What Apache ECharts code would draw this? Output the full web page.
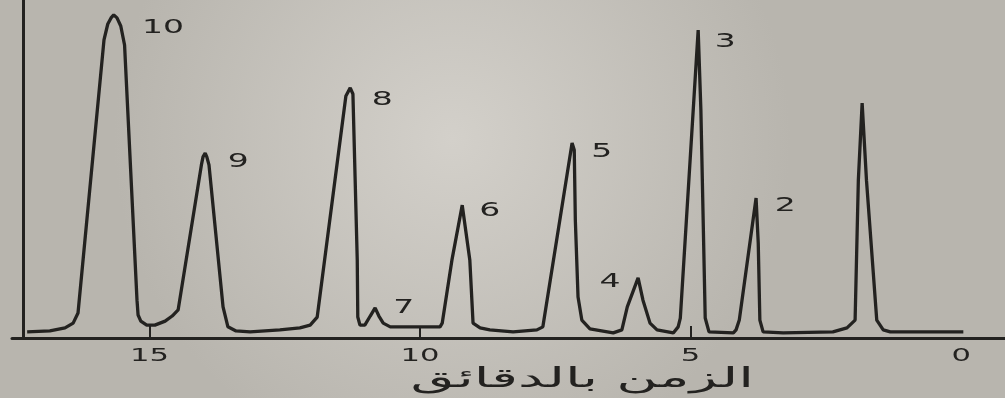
<!DOCTYPE html>
<html>
<head>
<meta charset="utf-8">
<script src="https://cdn.jsdelivr.net/npm/echarts@6/dist/echarts.min.js"></script>
<style>html,body{margin:0;padding:0;background:#c6c3bd;}#c{width:1005px;height:398px;}</style>
</head>
<body>
<div id="c"></div>
<script>
// Retention time (minutes) and detector response (% of full scale)
const times = [17.26,16.84,16.56,16.41,16.32,15.84,15.77,15.71,15.66,15.60,15.53,15.46,15.23,15.21,15.16,15.05,14.90,14.71,14.58,14.47,14.04,14.01,13.97,13.94,13.90,13.64,13.55,13.40,13.14,12.59,12.22,12.03,11.90,11.37,11.29,11.24,11.20,11.16,11.15,11.11,11.02,10.92,10.83,10.76,10.68,10.55,9.63,9.59,9.41,9.22,9.08,9.02,8.89,8.71,8.28,7.84,7.73,7.19,7.15,7.13,7.08,7.01,6.86,6.43,6.27,6.17,5.97,5.88,5.75,5.62,5.32,5.23,5.19,4.86,4.81,4.73,4.66,4.21,4.16,4.10,3.79,3.75,3.72,3.66,3.29,2.37,2.11,1.96,1.90,1.83,1.75,1.56,1.44,1.31,-0.04];
const signal = [1.8,2.1,3.0,4.4,7.4,88.2,92.9,94.7,95.6,94.7,92.3,86.7,11.2,6.8,5.0,3.8,3.8,5.0,6.5,8.3,51.2,53.6,54.7,53.6,51.2,9.2,3.3,2.1,1.8,2.4,3.0,3.8,6.2,71.6,74.0,72.2,47.6,23.1,6.2,3.8,3.8,6.5,8.9,6.5,4.4,3.3,3.3,4.4,23.1,39.3,23.1,4.4,3.0,2.4,1.8,2.4,3.3,57.7,55.6,34.9,12.1,5.3,2.7,1.5,2.4,9.2,17.8,11.2,4.4,2.4,1.5,3.3,5.9,91.1,67.5,5.9,1.8,1.5,2.4,5.3,41.4,28.1,5.3,1.8,1.5,1.8,3.0,5.3,46.7,69.5,46.7,5.3,2.4,1.8,1.8];

// Peak numbers and where their labels sit (time, response)
const peakNames = ['10','9','8','7','6','5','4','3','2'];
const peakLabelTimes = [14.75,13.36,10.70,10.30,8.71,6.64,6.49,4.36,3.25];
const peakLabelHeights = [91.7,52.1,70.4,8.9,37.6,55.0,16.6,87.6,39.0];

// Axis ticks
const tickLabelValues = [15,10,5,0];
const tickMarkValues = [5,10,15];
const axisTitle = 'الزمن بالدقائق';

const ink = '#232220';
const chart = echarts.init(document.getElementById('c'), null, {renderer:'canvas'});
chart.setOption({
  animation: false,
  backgroundColor: {
    type: 'radial', x: 0.45, y: 0.35, r: 0.85,
    colorStops: [{offset: 0, color: '#d3d0ca'}, {offset: 1, color: '#b8b5ae'}]
  },
  grid: {left: 12, right: 0, top: 0, bottom: 60},
  xAxis: {
    type: 'value', inverse: true, min: -0.81, max: 17.54,
    axisLine: {onZero: false, lineStyle: {color: ink, width: 3}},
    axisTick: {show: true, inside: true, length: 12, customValues: tickMarkValues, lineStyle: {color: ink, width: 2}},
    axisLabel: {show: false},
    splitLine: {show: false}
  },
  yAxis: {
    type: 'value', min: 0, max: 100, position: 'left', offset: -11,
    axisLine: {show: true, onZero: false, lineStyle: {color: ink, width: 3}},
    axisTick: {show: false}, axisLabel: {show: false}, splitLine: {show: false}
  },
  series: [{
    type: 'line',
    data: times.map((t, i) => [t, signal[i]]),
    showSymbol: false, smooth: false,
    lineStyle: {color: ink, width: 3.3},
    silent: true
  }]
});

// Wide typewriter-like lettering: place text through the chart's own scales
const graphics = [];
tickLabelValues.forEach(v => {
  const p = chart.convertToPixel({gridIndex: 0}, [v, 0]);
  graphics.push({
    type: 'text', x: p[0], y: p[1] + 18, scaleX: 1.7, silent: true,
    style: {text: String(v), fill: ink, font: '18px "DejaVu Sans"', textAlign: 'center', textVerticalAlign: 'middle'}
  });
});
peakNames.forEach((n, i) => {
  const p = chart.convertToPixel({gridIndex: 0}, [peakLabelTimes[i], peakLabelHeights[i]]);
  graphics.push({
    type: 'text', x: p[0], y: p[1], scaleX: 1.65, silent: true,
    style: {text: n, fill: ink, font: '20px "DejaVu Sans"', textAlign: 'center', textVerticalAlign: 'middle'}
  });
});
const mid = chart.convertToPixel({gridIndex: 0}, [7.5, 0]);
graphics.push({
  type: 'text', x: mid[0] + 27, y: mid[1] + 42, scaleX: 2.1, silent: true,
  style: {text: axisTitle, fill: ink, font: '27px "DejaVu Sans"', textAlign: 'center', textVerticalAlign: 'middle'}
});
chart.setOption({graphic: graphics});
</script>
</body>
</html>
